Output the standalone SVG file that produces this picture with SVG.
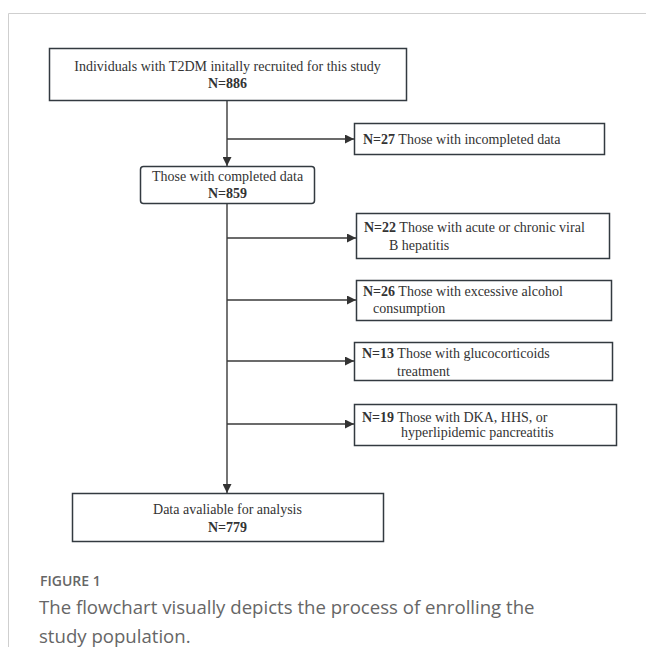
<svg xmlns="http://www.w3.org/2000/svg" width="646" height="647" viewBox="0 0 646 647">
<defs>
<style>
.box{fill:#fff;stroke:#333a40;stroke-width:1.5}
.t{font-family:"Liberation Serif","Times New Roman",serif;font-size:14px;fill:#333}
.b{font-weight:bold}
.c{text-anchor:middle}
.ln{stroke:#3a3a3a;stroke-width:1.4;fill:none}
.cap{font-family:"Open Sans","Noto Sans",sans-serif;fill:#666}
</style>
<marker id="ah" viewBox="0 0 10 10" refX="10" refY="5" markerWidth="9" markerHeight="9" markerUnits="userSpaceOnUse" orient="auto">
<path d="M0,0 L10,5 L0,10 z" fill="#333"/>
</marker>
</defs>
<rect width="646" height="647" fill="#fff"/>
<path d="M8.5,647 V13.5 H646" fill="none" stroke="#cfcfcf" stroke-width="1"/>
<g id="connectors">
<line class="ln" x1="227" y1="100" x2="227" y2="166" marker-end="url(#ah)"/>
<line class="ln" x1="227" y1="139" x2="354" y2="139" marker-end="url(#ah)"/>
<line class="ln" x1="227" y1="203" x2="227" y2="493" marker-end="url(#ah)"/>
<line class="ln" x1="227" y1="238" x2="356" y2="238" marker-end="url(#ah)"/>
<line class="ln" x1="227" y1="300" x2="356" y2="300" marker-end="url(#ah)"/>
<line class="ln" x1="227" y1="361" x2="354" y2="361" marker-end="url(#ah)"/>
<line class="ln" x1="227" y1="424" x2="354" y2="424" marker-end="url(#ah)"/>
</g>
<g id="recruited">
<rect class="box" x="49.5" y="48.5" width="357" height="52"/>
<text class="t c" x="227.5" y="71">Individuals with T2DM initally recruited for this study</text>
<text class="t b c" x="227.5" y="88">N=886</text>
</g>
<g id="incomplete">
<rect class="box" x="354.5" y="123.5" width="250" height="31"/>
<text class="t" x="363" y="143.5"><tspan class="b">N=27</tspan> Those with incompleted data</text>
</g>
<g id="completed">
<rect class="box" x="140.5" y="166.5" width="174" height="37" rx="3"/>
<text class="t c" x="227.5" y="181">Those with completed data</text>
<text class="t b c" x="227.5" y="198">N=859</text>
</g>
<g id="hepatitis">
<rect class="box" x="356.5" y="213.5" width="253" height="45"/>
<text class="t" x="364" y="231.5"><tspan class="b">N=22</tspan> Those with acute or chronic viral</text>
<text class="t" x="389" y="249.5">B hepatitis</text>
</g>
<g id="alcohol">
<rect class="box" x="356.5" y="280.5" width="255" height="40"/>
<text class="t" x="363" y="295.5"><tspan class="b">N=26</tspan> Those with excessive alcohol</text>
<text class="t" x="373" y="312.5">consumption</text>
</g>
<g id="glucocorticoids">
<rect class="box" x="354.5" y="342.5" width="258" height="38"/>
<text class="t" x="362" y="357.5"><tspan class="b">N=13</tspan> Those with glucocorticoids</text>
<text class="t" x="397" y="375.5">treatment</text>
</g>
<g id="dka">
<rect class="box" x="354.5" y="404.5" width="262" height="41"/>
<text class="t" x="362" y="421.5"><tspan class="b">N=19</tspan> Those with DKA, HHS, or</text>
<text class="t" x="401" y="436.5">hyperlipidemic pancreatitis</text>
</g>
<g id="analysis">
<rect class="box" x="72.5" y="493.5" width="311" height="48"/>
<text class="t c" x="227.5" y="513.5">Data avaliable for analysis</text>
<text class="t b c" x="227.5" y="531.5">N=779</text>
</g>
<text class="cap" x="40" y="586" font-size="14" font-weight="600">FIGURE 1</text>
<text class="cap" x="39" y="614" font-size="18.6">The flowchart visually depicts the process of enrolling the</text>
<text class="cap" x="39" y="643" font-size="18.6">study population.</text>
</svg>
